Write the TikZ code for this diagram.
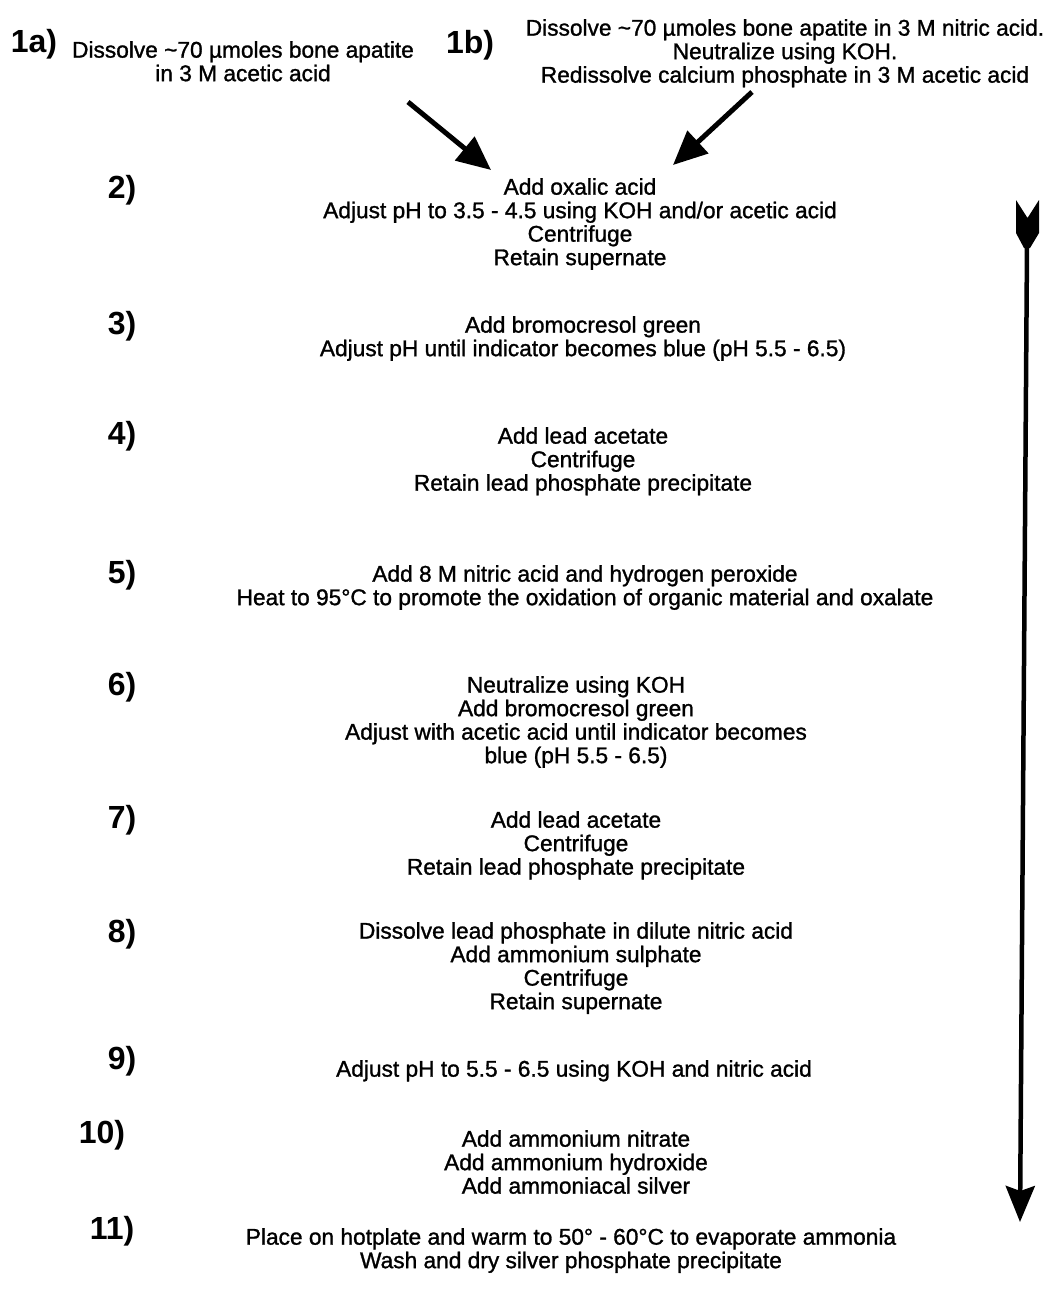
\documentclass[tikz,border=0pt]{standalone}
\usepackage{fontspec}
\setmainfont{Liberation Sans}
\newfontfamily\txtf{Liberation Sans}[BoldFont=Liberation Sans, BoldFeatures={FakeBold=1.2}]
\newfontfamily\lblf{Liberation Sans Bold}
\usetikzlibrary{arrows.meta}
\begin{document}
\begin{tikzpicture}[x=1pt,y=-1pt,
  txt/.style={font=\txtf\bfseries\fontsize{22.7}{23.5}\selectfont, align=center, inner sep=0pt, anchor=north},
  lbl/.style={font=\lblf\fontsize{32}{32}\selectfont, inner sep=0pt},
  bigarrow/.style={line width=5pt, -{Triangle[length=34pt,width=30pt]}},
  shaft/.style={line width=4.5pt, -{Stealth[length=36pt,width=29pt,inset=5pt]}}]
\useasboundingbox (0,0) rectangle (1049,1296);
% labels
\node[lbl] (l1a) at (34,44) {1a)};
\node[lbl] (l1b) at (470,45) {1b)};
\node[lbl] (l2) at (122,190) {2)};
\node[lbl] (l3) at (122,326) {3)};
\node[lbl] (l4) at (122,436) {4)};
\node[lbl] (l5) at (122,575) {5)};
\node[lbl] (l6) at (122,687) {6)};
\node[lbl] (l7) at (122,820) {7)};
\node[lbl] (l8) at (122,934) {8)};
\node[lbl] (l9) at (122,1061) {9)};
\node[lbl] (l10) at (102,1135) {10)};
\node[lbl] (l11) at (112,1231) {11)};
% texts
\node[txt] (t1a) at (243,41) {Dissolve \textasciitilde70 µmoles bone apatite\\in 3 M acetic acid};
\node[txt] (t1b) at (785,19) {Dissolve \textasciitilde70 µmoles bone apatite in 3 M nitric acid.\\Neutralize using KOH.\\Redissolve calcium phosphate in 3 M acetic acid};
\node[txt] (t2) at (580,178) {Add oxalic acid\\Adjust pH to 3.5 - 4.5 using KOH and/or acetic acid\\Centrifuge\\Retain supernate};
\node[txt] (t3) at (583,316) {Add bromocresol green\\Adjust pH until indicator becomes blue (pH 5.5 - 6.5)};
\node[txt] (t4) at (583,427) {Add lead acetate\\Centrifuge\\Retain lead phosphate precipitate};
\node[txt] (t5) at (585,565) {Add 8 M nitric acid and hydrogen peroxide\\Heat to 95°C to promote the oxidation of organic material and oxalate};
\node[txt] (t6) at (576,676) {Neutralize using KOH\\Add bromocresol green\\Adjust with acetic acid until indicator becomes\\blue (pH 5.5 - 6.5)};
\node[txt] (t7) at (576,811) {Add lead acetate\\Centrifuge\\Retain lead phosphate precipitate};
\node[txt] (t8) at (576,922) {Dissolve lead phosphate in dilute nitric acid\\Add ammonium sulphate\\Centrifuge\\Retain supernate};
\node[txt] (t9) at (574,1060) {Adjust pH to 5.5 - 6.5 using KOH and nitric acid};
\node[txt] (t10) at (576,1130) {Add ammonium nitrate\\Add ammonium hydroxide\\Add ammoniacal silver};
\node[txt] (t11) at (571,1228) {Place on hotplate and warm to 50° - 60°C to evaporate ammonia\\Wash and dry silver phosphate precipitate};
% converging arrows
\coordinate (a1s) at (408,102);
\coordinate (a1e) at (491,170);
\coordinate (a2s) at (752,92);
\coordinate (a2e) at (673,165);
\draw[bigarrow] (a1s) -- (a1e);
\draw[bigarrow] (a2s) -- (a2e);
% long vertical arrow
\coordinate (vtop) at (1027,246);
\coordinate (vbot) at (1020,1222);
\fill (1016,200) -- (1027.5,218) -- (1039,200) -- (1039,233) -- (1030,248) -- (1024,248) -- (1016,233) -- cycle;
\draw[shaft] (vtop) -- (vbot);
\end{tikzpicture}
\end{document}
